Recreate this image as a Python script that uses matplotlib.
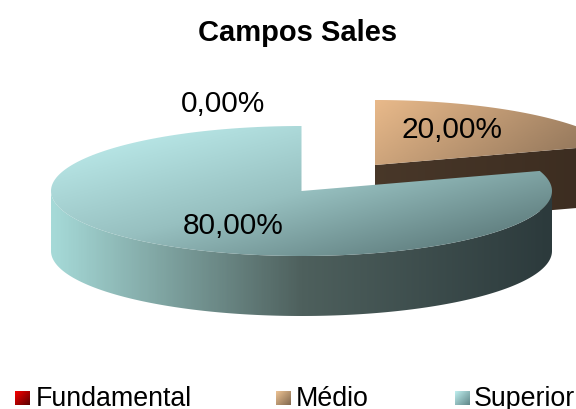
import numpy as np
import matplotlib.pyplot as plt
from matplotlib.colors import LinearSegmentedColormap
from matplotlib.patches import Polygon

title = "Campos Sales"
categories = ["Fundamental", "Médio", "Superior"]
values = [0, 20, 80]
value_labels = ["0,00%", "20,00%", "80,00%"]

plt.rcParams['font.family'] = ['Liberation Sans', 'DejaVu Sans']

RX, RY, DEPTH = 250.5, 65, 60
centers = {"Médio": (375, 166), "Superior": (301.5, 192)}
top_cols = {"Médio": [(0, "#e8b98a"), (.37, "#e8b98a"), (.81, "#8d7258"), (1, "#6e5944")],
            "Superior": ["#c2f2f2", "#97c0c0", "#4f6a6b"]}
top_angle = {"Médio": 20, "Superior": 45}
side_cols = {"Médio": ["#574433", "#3a2b1f"], "Superior": ["#a6dad8", "#4e605d", "#2c3a3c"]}
label_pos = [(223, 104), (452, 130), (233, 226)]
legend_x = [(15, 36), (276, 296), (455, 474)]
legend_cols = [["#ff0000", "#5a0000"], ["#f2c797", "#80674d"], ["#c4f4f4", "#5f8688"]]

fig = plt.figure(figsize=(5.76, 4.10), dpi=100)
ax = fig.add_axes([0, 0, 1, 1])
ax.set_xlim(0, 576)
ax.set_ylim(410, 0)
ax.axis('off')
layer = [1]


def fill(pts, cols, box, angle):
    # linear gradient clipped to a polygon, angle in degrees (0 = left to right)
    x0, x1, y0, y1 = box
    xx, yy = np.meshgrid(np.linspace(0, 1, 200), np.linspace(0, 1, 200))
    a = np.deg2rad(angle)
    g = xx * np.cos(a) + yy * np.sin(a)
    g = (g - g.min()) / (g.max() - g.min())
    cmap = LinearSegmentedColormap.from_list("g", cols)
    im = ax.imshow(g, cmap=cmap, extent=(x0, x1, y1, y0), aspect='auto', interpolation='bilinear', zorder=layer[0])
    layer[0] += 1
    clip = Polygon(pts, closed=True, transform=ax.transData, fc='none', ec='none')
    ax.add_patch(clip)
    im.set_clip_path(clip)


def arc(cx, cy, a0, a1):
    # angles clockwise from 12 o'clock, degrees
    t = np.deg2rad(np.linspace(a0, a1, 200))
    return np.column_stack([cx + RX * np.sin(t), cy - RY * np.cos(t)])


cum = 0
wedges = {}
for c, v in zip(categories, values):
    wedges[c] = (cum * 3.6, (cum + v) * 3.6)
    cum += v

for c in ["Médio", "Superior"]:
    a0, a1 = wedges[c]
    cx, cy = centers[c]
    box = (cx - RX, cx + RX, cy - RY, cy + RY + DEPTH)
    if c == "Médio":
        # cut face of the pulled out slice
        e = arc(cx, cy, a1, a1)[0]
        face = [(cx, cy), tuple(e), (e[0], e[1] + DEPTH), (cx, cy + DEPTH)]
        fill(face, side_cols[c], box, 0)
    s0, s1 = max(a0, 90), min(a1, 270)
    if s1 > s0:
        rim = arc(cx, cy, s0, s1)
        pts = np.vstack([rim, rim[::-1] + [0, DEPTH]])
        fill(pts, side_cols[c], box, 0)
    top = np.vstack([[cx, cy], arc(cx, cy, a0, a1)])
    fill(top, top_cols[c], (cx - RX, cx + RX, cy - RY, cy + RY), top_angle[c])

ax.text(298, 33, title, fontsize=21, fontweight='bold', ha='center', va='center', zorder=500)
for (x, y), t in zip(label_pos, value_labels):
    ax.text(x, y, t, fontsize=21.5, ha='center', va='center', color='black', zorder=500)

for (sx, tx), c, cols in zip(legend_x, categories, legend_cols):
    sq = [(sx, 392), (sx + 15, 392), (sx + 15, 406.5), (sx, 406.5)]
    fill(sq, cols, (sx, sx + 15, 392, 406.5), 45)
    ax.text(tx, 406.5, c, fontsize=19.3, ha='left', va='baseline', zorder=500)

ax.set_xlim(0, 576)
ax.set_ylim(410, 0)
fig.savefig("out.png", dpi=100)
plt.close()
